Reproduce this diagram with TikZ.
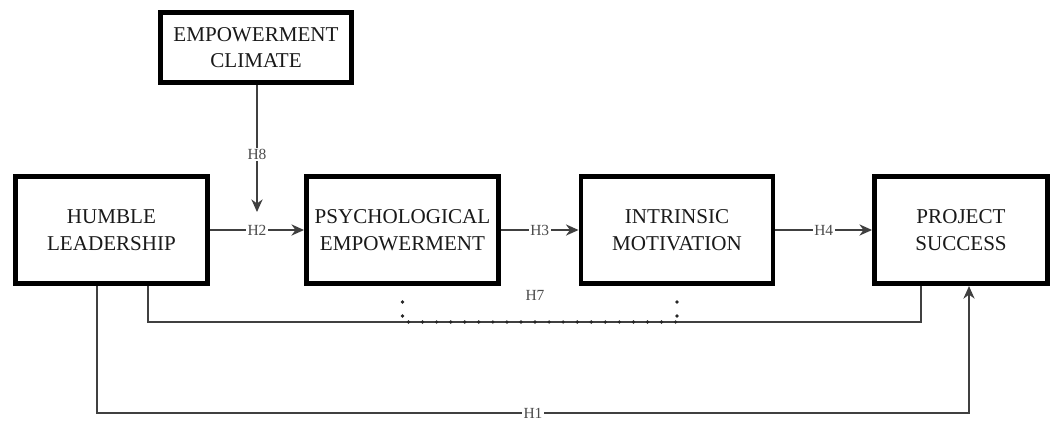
\documentclass[tikz,border=0pt]{standalone}
\usepackage{fontspec}
\setmainfont{Liberation Serif}
\usetikzlibrary{arrows.meta}

\begin{document}
\begin{tikzpicture}[
        box/.style={draw, line width=3.5pt, minimum width=4.8cm, minimum height=2.68cm,
            inner sep=0pt, align=center, font=\fontsize{15}{19}\selectfont, text=black!90},
        lbl/.style={fill=white, inner sep=1pt, font=\fontsize{11}{13}\selectfont, text=black!70},
        link/.style={line width=1pt, draw=black!75},
        dots/.style={draw=black!85, line width=2.6pt, line cap=round, dash pattern=on 0pt off 10pt},
        >={Stealth[length=9pt,width=8pt]}]
                \useasboundingbox (0,0) rectangle (26.45,10.55);
                % constructs
                \node[box, minimum width=4.775cm, minimum height=1.75cm] (ec) at (6.4,9.3625) {EMPOWERMENT\\CLIMATE};
                \node[box] (hl) at (2.7875,4.8) {HUMBLE\\LEADERSHIP};
                \node[box] (pe) at (10.0625,4.8) {PSYCHOLOGICAL\\EMPOWERMENT};
                \node[box] (im) at (16.925,4.8) {INTRINSIC\\MOTIVATION};
                \node[box, minimum width=4.325cm] (ps) at (24.025,4.8) {PROJECT\\SUCCESS};
                % corner points
                \coordinate (mod) at (6.425,5.25);
                \coordinate (h7l) at (3.7,2.5);
                \coordinate (h7r) at (23.025,2.5);
                \coordinate (h1l) at (2.425,0.225);
                \coordinate (h1r) at (24.225,0.225);
                % paths
                \draw[link, ->] (hl) -- node[lbl]{H2} (pe);
                \draw[link, ->] (pe) -- node[lbl]{H3} (im);
                \draw[link, ->] (im) -- node[lbl]{H4} (ps);
                \draw[link, ->] (ec.south -| mod) -- node[lbl, pos=0.55]{H8} (mod);
                \draw[link] (hl.south -| h7l) -- (h7l) -- (h7r) -- (ps.south -| h7r);
                \draw[dots] ([xshift=0.15cm]pe.south |- h7l) -- (im.south |- h7l);
                \draw[dots] ([yshift=0.15cm]pe.south |- h7l) -- ([yshift=0.52cm]pe.south |- h7l);
                \draw[dots] ([yshift=0.15cm]im.south |- h7l) -- ([yshift=0.52cm]im.south |- h7l);
                \node[lbl, fill=none] (h7) at (13.375,3.175) {H7};
                \draw[link, ->] (hl.south -| h1l) -- (h1l) -- node[lbl]{H1} (h1r) -- (ps.south -| h1r);
            \end{tikzpicture}
\end{document}
